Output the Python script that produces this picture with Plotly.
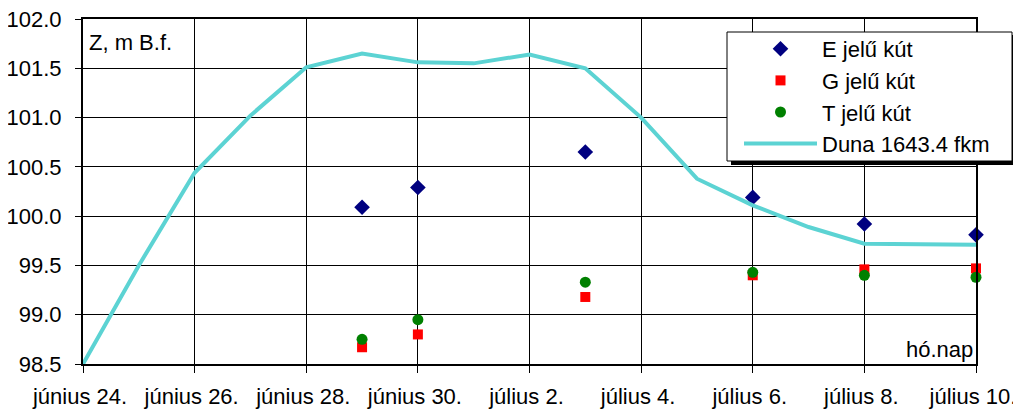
import plotly.graph_objects as go

# Day index 0 = június 24.
tick_days = [0, 2, 4, 6, 8, 10, 12, 14, 16]
tick_labels = ["június 24.", "június 26.", "június 28.", "június 30.", "július 2.",
               "július 4.", "július 6.", "július 8.", "július 10."]

duna_days = list(range(17))
duna_vals = [98.50, 99.50, 100.44, 101.02, 101.51, 101.65, 101.56, 101.55, 101.64,
             101.50, 101.00, 100.38, 100.11, 99.89, 99.72, 99.71, 99.71]

well_days = [5, 6, 9, 12, 14, 16]
e_vals = [100.09, 100.29, 100.65, 100.19, 99.92, 99.81]
g_vals = [98.67, 98.80, 99.18, 99.40, 99.46, 99.47]
t_vals = [98.75, 98.95, 99.33, 99.43, 99.40, 99.38]

FONT = "Liberation Sans, Arial, sans-serif"
FS = 22
OFF = 8  # page body margin
W, H = 1021 - OFF, 409 - OFF
# target plot area in window pixels
PL, PT, PR, PB = 83, 19, 976, 364
L, T = PL - OFF, PT - OFF
R, B = W - (PR - OFF), H - (PB - OFF)
pw, ph = PR - PL, PB - PT

def px(x):
    return (x - PL) / pw

def py(y):
    return (PB - y) / ph

fig = go.Figure()
fig.add_trace(go.Scatter(x=well_days, y=e_vals, mode="markers", name="E jelű kút",
                         marker=dict(symbol="diamond", color="#000080", size=12),
                         cliponaxis=False, legendgroup="e"))
fig.add_trace(go.Scatter(x=well_days, y=g_vals, mode="markers", name="G jelű kút",
                         marker=dict(symbol="square", color="#FF0000", size=10),
                         cliponaxis=False, legendgroup="g"))
fig.add_trace(go.Scatter(x=well_days, y=t_vals, mode="markers", name="T jelű kút",
                         marker=dict(symbol="circle", color="#008000", size=11),
                         cliponaxis=False, legendgroup="t"))
fig.add_trace(go.Scatter(x=duna_days, y=duna_vals, mode="lines", name="Duna 1643.4 fkm",
                         line=dict(color="#5CD3D3", width=4), legendgroup="d"))

fig.update_layout(
    width=W, height=H,
    margin=dict(l=L, r=R, t=T, b=B, autoexpand=False),
    paper_bgcolor="white", plot_bgcolor="white",
    font=dict(family=FONT, size=FS, color="black"),
    legend=dict(x=px(739), y=py(28), xanchor="left", yanchor="top",
                bgcolor="rgba(0,0,0,0)", borderwidth=0,
                font=dict(family=FONT, size=FS, color="black"),
                tracegroupgap=0, itemwidth=73),
    xaxis=dict(range=[0, 16], tickvals=tick_days, ticktext=tick_labels,
               showgrid=True, gridcolor="black", gridwidth=1,
               showline=True, linecolor="black", linewidth=2, mirror=True,
               ticks="outside", ticklen=7, tickcolor="black", tickwidth=1,
               ticklabelstandoff=5, ticklabelshift=-3, ticklabeloverflow="allow",
               zeroline=False, automargin=False, tickfont=dict(size=FS)),
    yaxis=dict(range=[98.5, 102.0], dtick=0.5, tick0=98.5, tickformat=".1f",
               showgrid=True, gridcolor="black", gridwidth=1,
               showline=True, linecolor="black", linewidth=2, mirror=True,
               ticks="outside", ticklen=6, tickcolor="black", tickwidth=1,
               ticklabelstandoff=9, ticklabeloverflow="allow",
               zeroline=False, automargin=False, tickfont=dict(size=FS)),
    shapes=[
        dict(type="rect", xref="paper", yref="paper",
             x0=px(731), x1=px(1016), y0=py(165), y1=py(35),
             fillcolor="black", line=dict(width=0), layer="above"),
        dict(type="rect", xref="paper", yref="paper",
             x0=px(727), x1=px(1012), y0=py(161), y1=py(32),
             fillcolor="white", line=dict(color="black", width=1), layer="above"),
    ],
    annotations=[
        dict(text="Z, m B.f.", xref="paper", yref="paper", x=px(87), y=py(42),
             xanchor="left", yanchor="middle", showarrow=False, font=dict(size=FS)),
        dict(text="hó.nap", xref="paper", yref="paper", x=px(975), y=py(349),
             xanchor="right", yanchor="middle", showarrow=False, font=dict(size=FS)),
    ],
)

fig.write_html("out.html")
